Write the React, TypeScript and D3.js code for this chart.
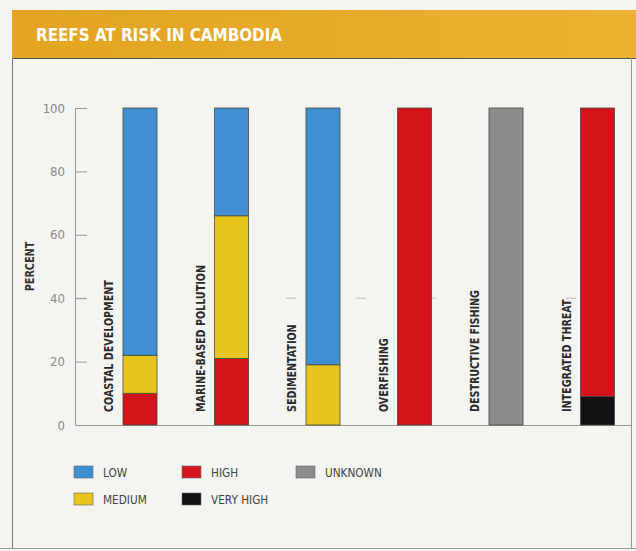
import * as d3 from 'd3';

const categories = ['COASTAL DEVELOPMENT', 'MARINE-BASED POLLUTION', 'SEDIMENTATION', 'OVERFISHING', 'DESTRUCTIVE FISHING', 'INTEGRATED THREAT'];
const veryHigh = [0, 0, 0, 0, 0, 9];
const high = [10, 21, 0, 100, 0, 91];
const medium = [12, 45, 19, 0, 0, 0];
const low = [78, 34, 81, 0, 0, 0];
const unknown = [0, 0, 0, 0, 100, 0];
const yTicks = [0, 20, 40, 60, 80, 100];

const keys = ['veryHigh', 'high', 'medium', 'low', 'unknown'];
const colors: Record<string, string> = {
  low: '#3f8fd2',
  medium: '#e6c51c',
  high: '#d3141b',
  veryHigh: '#121212',
  unknown: '#8c8c8c',
};
const legendItems = [
  { key: 'low', label: 'LOW', col: 0, row: 0 },
  { key: 'medium', label: 'MEDIUM', col: 0, row: 1 },
  { key: 'high', label: 'HIGH', col: 1, row: 0 },
  { key: 'veryHigh', label: 'VERY HIGH', col: 1, row: 1 },
  { key: 'unknown', label: 'UNKNOWN', col: 2, row: 0 },
];

const font = '"DejaVu Sans Condensed", "Roboto", sans-serif';

export default function App() {
  const width = 636;
  const height = 551;

  const rows = categories.map((c, i) => ({
    cat: c,
    veryHigh: veryHigh[i],
    high: high[i],
    medium: medium[i],
    low: low[i],
    unknown: unknown[i],
  }));
  const series = d3.stack<any>().keys(keys)(rows);

  const x = d3.scaleBand().domain(categories).range([78, 627]);
  const y = d3.scaleLinear().domain([0, 100]).range([425, 108]);
  const barOffset = 45;
  const barW = 34;

  return (
    <svg width={width} height={height} style={{ position: 'absolute', left: 0, top: 0 }}>
      <defs>
        <linearGradient id="hdr" x1="0" x2="1" y1="0" y2="0">
          <stop offset="0" stopColor="#e2a421" />
          <stop offset="1" stopColor="#ebb232" />
        </linearGradient>
      </defs>
      <rect x={0} y={0} width={width} height={height} fill="#f4f4f1" />
      <rect x={12} y={10} width={624} height={48} fill="url(#hdr)" />
      <text x={36} y={41} fill="#fff" fontFamily={font} fontWeight="bold" fontSize={18}
        textLength={246} lengthAdjust="spacingAndGlyphs">REEFS AT RISK IN CAMBODIA</text>
      <line x1={12} x2={636} y1={58.5} y2={58.5} stroke="#555" strokeWidth={1} />
      <line x1={12.5} x2={12.5} y1={58} y2={548} stroke="#777" strokeWidth={1} />
      <line x1={631.5} x2={631.5} y1={58} y2={548} stroke="#999" strokeWidth={1} />
      <line x1={0} x2={636} y1={548.5} y2={548.5} stroke="#999" strokeWidth={1} />

      {/* dashed gridline at 40 */}
      <line x1={76} x2={627} y1={y(40)} y2={y(40)} stroke="#bbb" strokeDasharray="10 60" strokeWidth={1} />

      {/* y axis */}
      <line x1={75.5} x2={75.5} y1={y(100)} y2={y(0)} stroke="#999" />
      <line x1={75} x2={632} y1={y(0) + 0.5} y2={y(0) + 0.5} stroke="#999" />
      {yTicks.map(t => (
        <g key={t}>
          {t > 0 && <line x1={75} x2={87} y1={y(t) + 0.5} y2={y(t) + 0.5} stroke="#999" />}
          <text x={65} y={y(t)} dy="0.35em" textAnchor="end" fill="#8a8a8a" fontFamily={font} fontSize={13}>{t}</text>
        </g>
      ))}
      <text transform={`translate(34,${y(50)}) rotate(-90) scale(0.9,1)`} textAnchor="middle" fill="#333"
        fontFamily={font} fontWeight="bold" fontSize={12}>PERCENT</text>

      {/* bars */}
      {series.map(s => (
        <g key={s.key} fill={colors[s.key]}>
          {s.map((d, i) => d[1] - d[0] > 0 ? (
            <rect key={i} x={(x(categories[i]) as number) + barOffset} y={y(d[1])}
              width={barW} height={y(d[0]) - y(d[1])} stroke="#4a4a3a" strokeWidth={0.8} />
          ) : null)}
        </g>
      ))}

      {/* category labels */}
      {categories.map(c => (
        <text key={c} transform={`translate(${(x(c) as number) + 35},412) rotate(-90) scale(0.82,1)`}
          fill="#2a2a2a" fontFamily={font} fontWeight="bold" fontSize={13}>{c}</text>
      ))}

      {/* legend */}
      {legendItems.map(l => {
        const lx = [74, 182, 296][l.col];
        const ly = [472, 499][l.row];
        return (
          <g key={l.key}>
            <rect x={lx} y={ly - 6} width={19} height={12} fill={colors[l.key]} stroke="#666" strokeWidth={0.6} />
            <text transform={`translate(${lx + 29},${ly}) scale(0.9,1)`} dy="0.35em" fill="#444"
              fontFamily={font} fontSize={13}>{l.label}</text>
          </g>
        );
      })}
    </svg>
  );
}
